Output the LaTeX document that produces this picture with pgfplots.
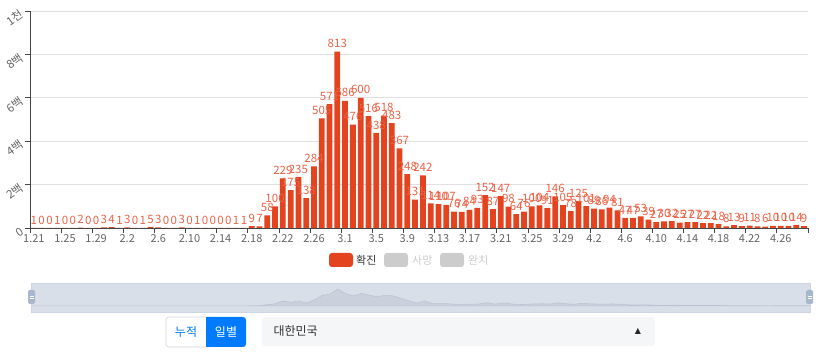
\documentclass[border=0pt]{standalone}
\usepackage{fontspec}
\setmainfont{Noto Sans CJK KR}
\newfontfamily\dejavu{DejaVu Sans}
\usepackage{pgfplots}
\pgfplotsset{compat=1.18}
\usepackage{pgfplotstable}

\definecolor{barred}{RGB}{227,67,30}
\definecolor{labred}{RGB}{236,98,70}
\definecolor{gridc}{RGB}{224,224,224}
\definecolor{axisc}{RGB}{70,70,70}
\definecolor{tickc}{RGB}{100,100,105}
\definecolor{legoff}{RGB}{204,204,204}
\definecolor{slbg}{RGB}{217,223,233}
\definecolor{slborder}{RGB}{205,213,228}
\definecolor{shfill}{RGB}{202,209,221}
\definecolor{shline}{RGB}{188,196,211}
\definecolor{handle}{RGB}{167,183,204}
\definecolor{btnblue}{RGB}{0,123,255}
\definecolor{btnborder}{RGB}{206,212,218}
\definecolor{ddbg}{RGB}{245,246,248}

\pgfplotstableread{
i v
0 1
1 0
2 0
3 1
4 0
5 0
6 2
7 0
8 0
9 3
10 4
11 1
12 3
13 0
14 1
15 5
16 3
17 0
18 0
19 3
20 0
21 1
22 0
23 0
24 0
25 0
26 1
27 1
28 9
29 7
30 58
31 100
32 229
33 175
34 235
35 138
36 284
37 505
38 571
39 813
40 586
41 476
42 600
43 516
44 438
45 518
46 483
47 367
48 248
49 131
50 242
51 114
52 110
53 107
54 76
55 74
56 84
57 93
58 152
59 87
60 147
61 98
62 64
63 76
64 100
65 104
66 91
67 146
68 105
69 78
70 125
71 101
72 89
73 86
74 94
75 81
76 47
77 47
78 53
79 39
80 27
81 30
82 32
83 25
84 27
85 27
86 22
87 22
88 18
89 8
90 13
91 9
92 11
93 8
94 6
95 10
96 10
97 10
98 14
99 9
}\daily

\begin{document}
\begin{tikzpicture}[x=1pt,y=1pt]
\path[use as bounding box] (0,0) rectangle (825,355);

\begin{axis}[
  at={(30pt,127pt)}, anchor=south west,
  scale only axis, width=778pt, height=217pt,
  xmin=-0.5, xmax=99.5, ymin=0, ymax=1000,
  clip=false,
  /pgf/number format/assume math mode=true,
  ybar, bar width=0.74,
  axis x line*=bottom, axis y line*=left,
  x axis line style={draw=axisc, line width=0.8pt},
  y axis line style={draw=axisc, line width=0.8pt},
  xtick={-0.5,3.5,...,99.5},
  xticklabels={1.21,1.25,1.29,2.2,2.6,2.10,2.14,2.18,2.22,2.26,3.1,3.5,3.9,3.13,3.17,3.21,3.25,3.29,4.2,4.6,4.10,4.14,4.18,4.22,4.26,{}},
  xticklabel style={xshift=3.9pt, font=\fontsize{11}{12}\selectfont, text=tickc, yshift=2pt},
  ytick={0,200,...,1000},
  yticklabels={0,2백,4백,6백,8백,1천},
  yticklabel style={rotate=35, anchor=east, font=\fontsize{11.5}{12}\selectfont, text=tickc},
  tick align=outside, major tick length=5pt,
  tick style={draw=axisc, line width=0.8pt},
  ymajorgrids, grid style={draw=gridc, line width=0.8pt},
  nodes near coords,
  every node near coord/.append style={font=\fontsize{11.5}{12}\selectfont, text=labred, inner sep=1pt, yshift=2.5pt},
]
\addplot[fill=barred, draw=none] table[x=i, y=v]{\daily};
\end{axis}

% legend
\fill[barred, rounded corners=3pt] (329,88) rectangle (353,102);
\node[anchor=west, inner sep=0, text=black!80, font=\fontsize{11}{12}\selectfont] at (356,95) {확진};
\fill[legoff, rounded corners=3pt] (384,88) rectangle (408,102);
\node[anchor=west, inner sep=0, text=legoff, font=\fontsize{11}{12}\selectfont] at (412,95) {사망};
\fill[legoff, rounded corners=3pt] (440,88) rectangle (464,102);
\node[anchor=west, inner sep=0, text=legoff, font=\fontsize{11}{12}\selectfont] at (468,95) {완치};

% slider
\fill[slbg] (31,43) rectangle (810,72);
\begin{axis}[
  at={(31pt,43pt)}, anchor=south west,
  scale only axis, width=779pt, height=29pt,
  xmin=0, xmax=99, ymin=-290, ymax=1100,
  hide axis, clip=true,
]
\addplot[fill=shfill, draw=shline, line width=0.6pt] table[x=i, y=v]{\daily} \closedcycle;
\end{axis}
\draw[slborder, line width=0.8pt] (31,43) rectangle (810,72);
\fill[handle, rounded corners=1.5pt] (28,51) rectangle (35,65);
\draw[white, line width=0.5pt] (29.5,57) -- (33.5,57) (29.5,59) -- (33.5,59);
\fill[handle, rounded corners=1.5pt] (806,51) rectangle (813,65);
\draw[white, line width=0.5pt] (807.5,57) -- (811.5,57) (807.5,59) -- (811.5,59);

% buttons
\draw[btnborder, fill=white, rounded corners=3pt, line width=0.6pt] (166,8) rectangle (212,38);
\fill[btnblue, rounded corners=3pt] (206,8) rectangle (246,38);
\fill[btnblue] (206,8) rectangle (212,38);
\node[text=btnblue, font=\fontsize{12}{13}\selectfont] at (186,23) {누적};
\node[text=white, font=\fontsize{12}{13}\selectfont] at (226,23) {일별};

% dropdown
\fill[ddbg, rounded corners=3pt] (262,9) rectangle (655,38);
\node[anchor=west, text=black!80, font=\fontsize{12}{13}\selectfont] at (270,24) {대한민국};
\node[text=black!85, font=\dejavu\fontsize{8}{9}\selectfont] at (638,24) {▲};
\end{tikzpicture}
\end{document}
